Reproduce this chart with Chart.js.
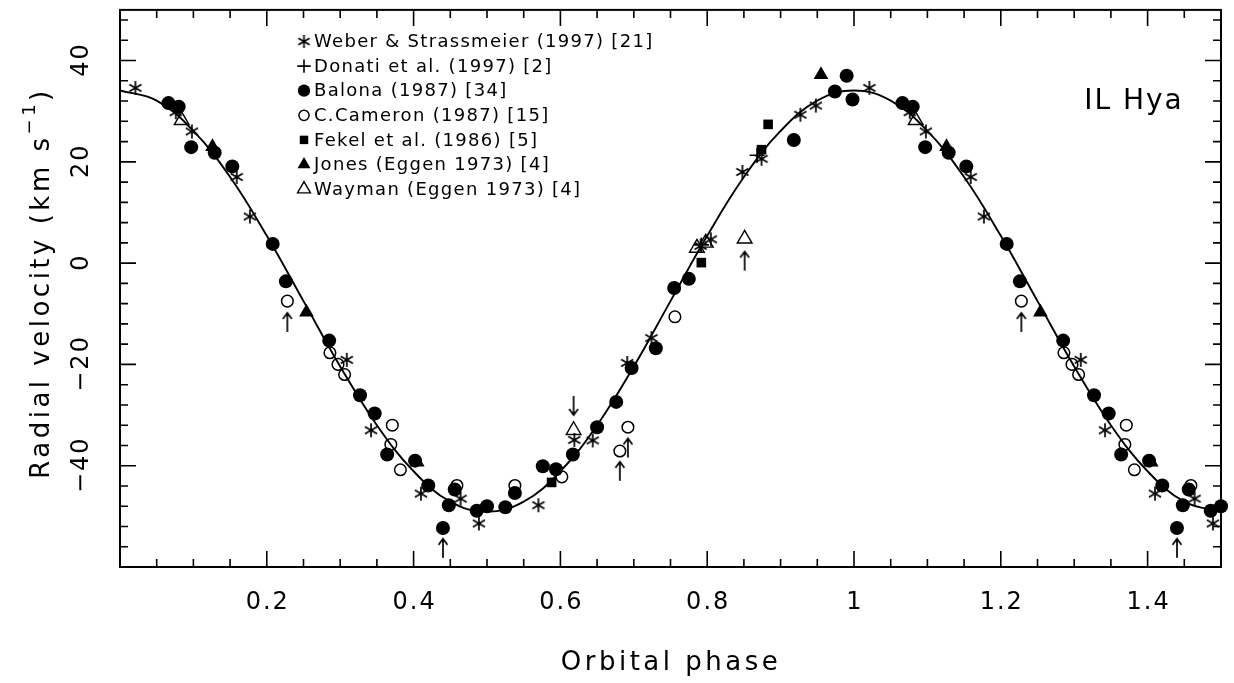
<!DOCTYPE html>
<html>
<head>
<meta charset="utf-8">
<title>IL Hya radial velocity</title>
<script src="https://cdn.jsdelivr.net/npm/chart.js@4.4.1/dist/chart.umd.min.js"></script>
<style>
  html, body { margin: 0; padding: 0; background: #fff; }
  #wrap { width: 1234px; height: 683px; }
</style>
</head>
<body>
<div id="wrap"><canvas id="rv-chart" width="1234" height="683"></canvas></div>
<script>
// Values for phase 0-1. The plot shows phase 0-0.5 again at 1-1.5.
const weberPhase = [0.021, 0.076, 0.098, 0.159, 0.177, 0.309, 0.342, 0.410, 0.464, 0.489, 0.570,
                    0.619, 0.644, 0.691, 0.724, 0.791, 0.805, 0.848, 0.874, 0.927, 0.948];
const weberVel   = [34.6, 29.8, 26.0, 17.0, 9.2, -19.1, -33.0, -45.5, -46.5, -51.4, -47.8,
                    -34.9, -35.0, -19.7, -14.8, 3.4, 4.7, 18.0, 20.6, 29.3, 31.1];

const donatiPhase = [0.792, 0.868];
const donatiVel   = [3.6, 21.3];

const balonaPhase = [0.066, 0.080, 0.097, 0.129, 0.153, 0.208, 0.226, 0.285, 0.327, 0.347, 0.364,
                     0.402, 0.420, 0.440, 0.448, 0.456, 0.486, 0.500, 0.525, 0.538, 0.576, 0.594,
                     0.617, 0.650, 0.676, 0.697, 0.730, 0.755, 0.775, 0.918, 0.974, 0.990, 0.998];
const balonaVel   = [31.6, 30.9, 22.9, 21.8, 19.1, 3.8, -3.6, -15.3, -26.1, -29.7, -37.8,
                     -39.0, -43.9, -52.3, -47.8, -44.7, -48.9, -48.0, -48.2, -45.4, -40.1, -40.7,
                     -37.8, -32.4, -27.4, -20.7, -16.8, -4.9, -3.1, 24.3, 33.9, 37.0, 32.3];

const cameronPhase = [0.228, 0.286, 0.297, 0.306, 0.369, 0.371, 0.382, 0.459, 0.538, 0.602, 0.681, 0.692, 0.756];
const cameronVel   = [-7.5, -17.7, -20.0, -22.0, -35.8, -32.0, -40.8, -43.9, -43.9, -42.2, -37.1, -32.4, -10.6];

const fekelPhase = [0.588, 0.792, 0.874, 0.883];
const fekelVel   = [-43.3, 0.1, 22.4, 27.4];

const jonesPhase = [0.126, 0.254, 0.405, 0.955];
const jonesVel   = [23.0, -9.7, -39.3, 37.2];

const waymanPhase = [0.084, 0.618, 0.786, 0.798, 0.851];
const waymanVel   = [28.2, -33.0, 3.0, 4.0, 4.8];

// arrows marking discrepant points
const arrowUpPhase   = [0.228, 0.440, 0.681, 0.692, 0.851];
const arrowUpVel     = [-11.6, -56.2, -41.0, -36.4, 0.5];
const arrowDownPhase = [0.618];
const arrowDownVel   = [-28.2];

// orbit fit, read every 0.05 in phase
const fitPhase = [0, 0.05, 0.1, 0.15, 0.2, 0.25, 0.3, 0.35, 0.4, 0.45, 0.5, 0.55, 0.6, 0.65, 0.7, 0.75,
                  0.8, 0.85, 0.9, 0.95, 1, 1.05, 1.1, 1.15, 1.2, 1.25, 1.3, 1.35, 1.4, 1.45, 1.5];
const fitVel   = [34.1, 32.1, 26.1, 17.0, 5.4, -7.5, -20.4, -32.0, -41.1, -47.1, -49.1, -47.1, -41.1, -32.0, -20.4, -7.5,
                  5.4, 17.0, 26.1, 32.1, 34.1, 32.1, 26.1, 17.0, 5.4, -7.5, -20.4, -32.0, -41.1, -47.1, -49.1];

const xTickValues = [0.2, 0.4, 0.6, 0.8, 1, 1.2, 1.4];
const xTickLabels = ['0.2', '0.4', '0.6', '0.8', '1', '1.2', '1.4'];
const yTickValues = [-40, -20, 0, 20, 40];
const yTickLabels = ['\u221240', '\u221220', '0', '20', '40'];

const legendLabels = [
  'Weber & Strassmeier (1997) [21]',
  'Donati et al. (1997) [2]',
  'Balona (1987) [34]',
  'C.Cameron (1987) [15]',
  'Fekel et al. (1986) [5]',
  'Jones (Eggen 1973) [4]',
  'Wayman (Eggen 1973) [4]'
];

// each observation is plotted at its phase and, if phase <= 0.5, once more one cycle later
function folded(phases, vels) {
  const pts = phases.map((p, i) => ({ x: p, y: vels[i] }));
  phases.forEach((p, i) => { if (p <= 0.5) pts.push({ x: p + 1, y: vels[i] }); });
  return pts;
}

// PGPLOT-like asterisk and arrows as small canvases
function makeAsterisk(size) {
  const c = document.createElement('canvas');
  c.width = size; c.height = size;
  const g = c.getContext('2d');
  const r = size / 2 - 1;
  g.strokeStyle = '#000';
  g.lineWidth = 1.7;
  g.translate(size / 2, size / 2);
  [90, 30, 150].forEach(a => {
    const t = a * Math.PI / 180;
    g.beginPath();
    g.moveTo(-r * Math.cos(t), -r * Math.sin(t));
    g.lineTo(r * Math.cos(t), r * Math.sin(t));
    g.stroke();
  });
  return c;
}

function makeArrow(up) {
  const c = document.createElement('canvas');
  c.width = 12; c.height = 22;
  const g = c.getContext('2d');
  g.strokeStyle = '#000';
  g.lineWidth = 1.7;
  if (!up) { g.translate(0, 22); g.scale(1, -1); }
  g.beginPath();
  g.moveTo(6, 2); g.lineTo(6, 21);
  g.moveTo(1.5, 8); g.lineTo(6, 2); g.lineTo(10.5, 8);
  g.stroke();
  return c;
}

const asteriskImg = makeAsterisk(16);
const asteriskSmall = makeAsterisk(15);

const markerStyles = [
  { pointStyle: asteriskImg, radius: 8, fill: false, borderWidth: 0 },
  { pointStyle: 'cross', radius: 7.5, fill: false, borderWidth: 1.6 },
  { pointStyle: 'circle', radius: 7, fill: true, borderWidth: 0 },
  { pointStyle: 'circle', radius: 5.8, fill: false, borderWidth: 1.5 },
  { pointStyle: 'rect', radius: 6.8, fill: true, borderWidth: 0 },
  { pointStyle: 'triangle', radius: 8.5, fill: true, borderWidth: 0 },
  { pointStyle: 'triangle', radius: 8.5, fill: false, borderWidth: 1.4 }
];

function markerSet(label, pts, st) {
  return {
    label: label,
    data: pts,
    pointStyle: st.pointStyle,
    pointRadius: st.radius,
    pointBackgroundColor: st.fill ? '#000' : 'rgba(0,0,0,0)',
    pointBorderColor: '#000',
    pointBorderWidth: st.borderWidth,
    showLine: false,
    clip: false,
    order: 1
  };
}

const pgFont = '"DejaVu Sans", "Liberation Sans", sans-serif';

const framePlugin = {
  id: 'pgFrame',
  afterDatasetsDraw(chart) {
    const { ctx, chartArea: a, scales: { x, y } } = chart;
    ctx.save();
    ctx.strokeStyle = '#000';
    ctx.fillStyle = '#000';

    // ticks, inward on all four sides
    ctx.lineWidth = 1.6;
    ctx.beginPath();
    for (let i = 1; i < 30; i++) {
      const px = x.getPixelForValue(i * 0.05);
      const len = i % 4 === 0 ? 16 : 8;
      ctx.moveTo(px, a.bottom); ctx.lineTo(px, a.bottom - len);
      ctx.moveTo(px, a.top); ctx.lineTo(px, a.top + len);
    }
    for (let v = -56; v <= 48; v += 4) {
      const py = y.getPixelForValue(v);
      const len = v % 20 === 0 ? 16 : 8;
      ctx.moveTo(a.left, py); ctx.lineTo(a.left + len, py);
      ctx.moveTo(a.right, py); ctx.lineTo(a.right - len, py);
    }
    ctx.stroke();

    ctx.lineWidth = 2;
    ctx.strokeRect(a.left, a.top, a.right - a.left, a.bottom - a.top);

    // tick labels
    ctx.font = '24px ' + pgFont;
    ctx.letterSpacing = '2px';
    ctx.textAlign = 'center';
    ctx.textBaseline = 'middle';
    xTickValues.forEach((v, i) => {
      ctx.fillText(xTickLabels[i], x.getPixelForValue(v) + 1, 603);
    });
    yTickValues.forEach((v, i) => {
      ctx.save();
      ctx.translate(82, y.getPixelForValue(v));
      ctx.rotate(-Math.PI / 2);
      ctx.fillText(yTickLabels[i], 1, 0);
      ctx.restore();
    });

    // axis titles
    ctx.font = '26px ' + pgFont;
    ctx.letterSpacing = '3.5px';
    ctx.fillText('Orbital phase', 671, 663);

    const main = 'Radial velocity (km s';
    const sup = '\u22121';
    const tail = ')';
    ctx.save();
    ctx.translate(42, 283);
    ctx.rotate(-Math.PI / 2);
    ctx.textAlign = 'left';
    ctx.font = '26px ' + pgFont;
    const wMain = ctx.measureText(main).width;
    const wTail = ctx.measureText(tail).width;
    ctx.font = '18px ' + pgFont;
    const wSup = ctx.measureText(sup).width;
    let cx = -(wMain + wSup + wTail) / 2;
    ctx.font = '26px ' + pgFont;
    ctx.fillText(main, cx, 0);
    cx += wMain;
    ctx.font = '18px ' + pgFont;
    ctx.fillText(sup, cx, -12);
    cx += wSup;
    ctx.font = '26px ' + pgFont;
    ctx.fillText(tail, cx, 0);
    ctx.restore();

    // star name
    ctx.font = '28px ' + pgFont;
    ctx.letterSpacing = '2px';
    ctx.fillText('IL Hya', 1134, 102);

    // key
    ctx.font = '18px ' + pgFont;
    ctx.letterSpacing = '1.3px';
    ctx.textAlign = 'left';
    legendLabels.forEach((lab, i) => {
      const ly = 41.5 + i * 24.6;
      const st = markerStyles[i];
      ctx.save();
      ctx.fillStyle = st.fill ? '#000' : 'rgba(0,0,0,0)';
      ctx.lineWidth = st.borderWidth;
      const opts = {
        pointStyle: i === 0 ? asteriskSmall : st.pointStyle,
        radius: st.radius * 0.88,
        rotation: 0,
        borderWidth: st.borderWidth
      };
      Chart.helpers.drawPoint(ctx, opts, 304, ly);
      ctx.restore();
      ctx.fillText(lab, 314, ly + 1);
    });

    ctx.restore();
  }
};

const canvas = document.getElementById('rv-chart');
new Chart(canvas, {
  type: 'scatter',
  data: {
    datasets: [
      markerSet('Weber & Strassmeier (1997)', folded(weberPhase, weberVel), markerStyles[0]),
      markerSet('Donati et al. (1997)', folded(donatiPhase, donatiVel), markerStyles[1]),
      markerSet('Balona (1987)', folded(balonaPhase, balonaVel), markerStyles[2]),
      markerSet('C.Cameron (1987)', folded(cameronPhase, cameronVel), markerStyles[3]),
      markerSet('Fekel et al. (1986)', folded(fekelPhase, fekelVel), markerStyles[4]),
      markerSet('Jones (Eggen 1973)', folded(jonesPhase, jonesVel), markerStyles[5]),
      markerSet('Wayman (Eggen 1973)', folded(waymanPhase, waymanVel), markerStyles[6]),
      {
        label: 'arrows up',
        data: folded(arrowUpPhase, arrowUpVel),
        pointStyle: makeArrow(true),
        pointRadius: 6,
        showLine: false,
        clip: false,
        order: 2
      },
      {
        label: 'arrows down',
        data: folded(arrowDownPhase, arrowDownVel),
        pointStyle: makeArrow(false),
        pointRadius: 6,
        showLine: false,
        clip: false,
        order: 2
      },
      {
        label: 'fit',
        data: fitPhase.map((p, i) => ({ x: p, y: fitVel[i] })),
        showLine: true,
        borderColor: '#000',
        borderWidth: 1.9,
        pointRadius: 0,
        tension: 0.4,
        fill: false,
        order: 10
      }
    ]
  },
  options: {
    responsive: false,
    animation: false,
    events: [],
    layout: { padding: { left: 120, right: 13, top: 9, bottom: 116 } },
    plugins: {
      legend: { display: false },
      tooltip: { enabled: false }
    },
    scales: {
      x: { type: 'linear', min: 0, max: 1.5, display: false },
      y: { type: 'linear', min: -60, max: 50, display: false }
    }
  },
  plugins: [framePlugin]
});
</script>
</body>
</html>
